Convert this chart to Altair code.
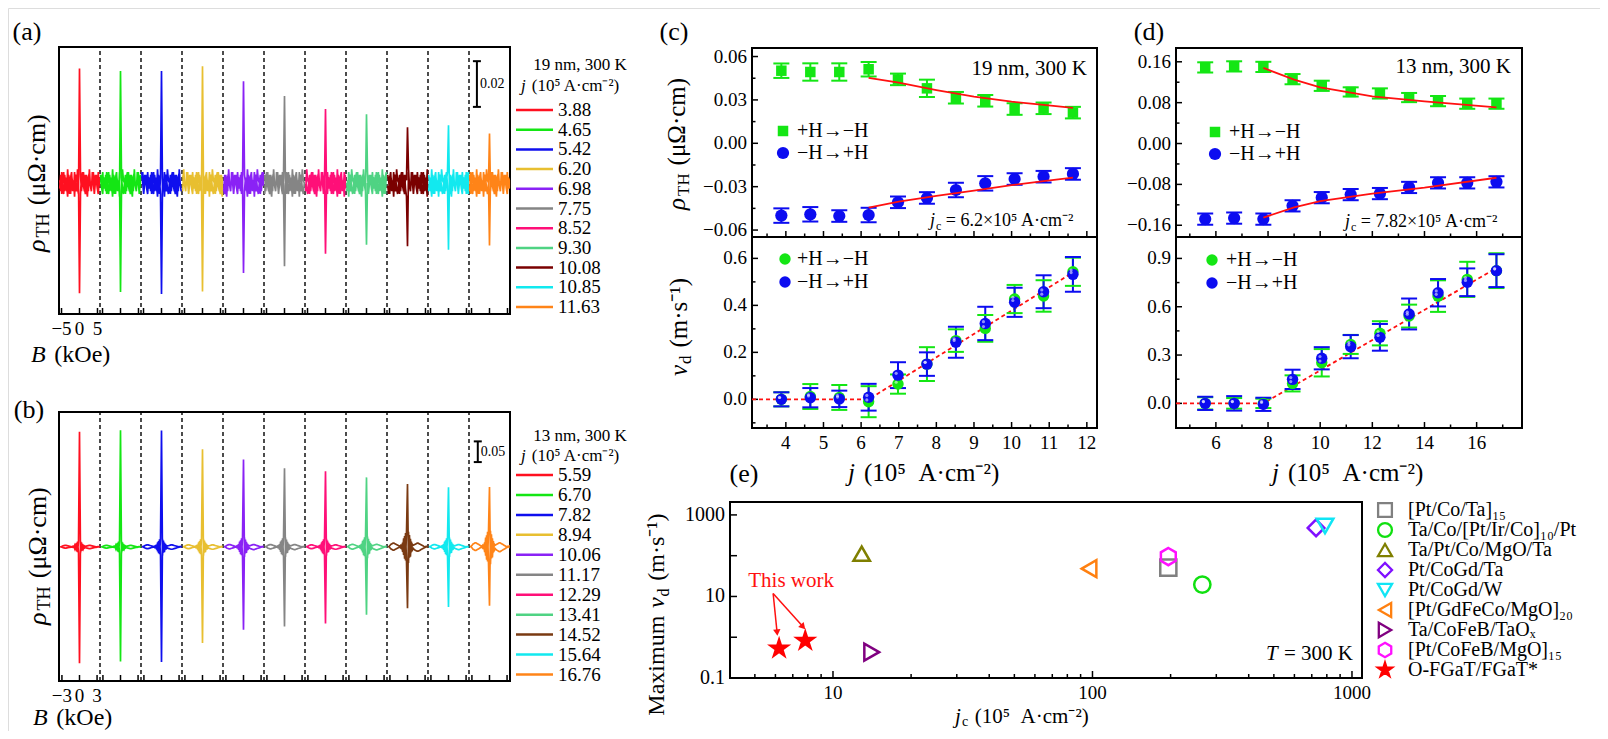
import altair as alt
import numpy as np
import pandas as pd

FONT = "Liberation Serif"
M = 8                      # page margin (view coords = page coords - M)
VW, VH = 1592, 723
SP = "\u2002"              # en space (not collapsed in SVG)

# ============================ DATA ============================
# (a) 19 nm, 300 K : rho_TH(B) traces, one per current density
A_J = ["3.88", "4.65", "5.42", "6.20", "6.98", "7.75", "8.52", "9.30", "10.08", "10.85", "11.63"]
A_COLORS = ["#ff1020", "#14e614", "#0f0fee", "#e8bf30", "#8a22f5", "#858585",
            "#ff0f78", "#4fd383", "#7a0000", "#12e9ef", "#ff8418"]
A_PEAK_UP = [0.0501, 0.0490, 0.0490, 0.0511, 0.0445, 0.0381, 0.0324, 0.0301, 0.0244, 0.0253, 0.0216]
A_PEAK_DN = [-0.0482, -0.0477, -0.0485, -0.0474, -0.0394, -0.0364, -0.0309, -0.0270, -0.0277, -0.0292, -0.0273]
A_NOISE_FWD = [1, -3, 4, -2, -4, 3, 0, -3, 5, -1, -4, 2, 4, -3, 1, -5, 3, 2, -2, -4, 0,
               3, -3, 1, 4, -2, -4, 3, 1, -3, 5, -1, -3, 2, 4, -4, 0, 3, -2, -4, 2]
A_NOISE_BWD = [-2, 3, -4, 1, 4, -3, 2, -1, -5, 3, 1, -4, 3, 0, -3, 4, -2, -3, 5, 1, 0,
               -4, 2, 4, -1, -3, 3, -2, -5, 2, 4, -1, -3, 4, 0, -4, 3, 1, -2, 4, -1]
A_NOISE_UNIT = 0.0012
A_AMP = [1, 1, 1, 1, 1, 1, 1, 1, 1, 1, 1]
A_BMAX = 5.5
A_SEG = 11.4
A_TICKS = [-5, 0, 5]

# (b) 13 nm, 300 K
B_J = ["5.59", "6.70", "7.82", "8.94", "10.06", "11.17", "12.29", "13.41", "14.52", "15.64", "16.76"]
B_COLORS = ["#ff1020", "#14e614", "#0f0fee", "#e8bf30", "#8a22f5", "#858585",
            "#ff0f78", "#4fd383", "#7a3a12", "#12e9ef", "#ff8418"]
B_PEAK_UP = [0.278, 0.282, 0.281, 0.236, 0.211, 0.190, 0.183, 0.168, 0.152, 0.144, 0.145]
B_PEAK_DN = [-0.281, -0.277, -0.278, -0.232, -0.200, -0.192, -0.185, -0.164, -0.148, -0.145, -0.142]
B_SHAPE_FWD = [0.0, 0.1, 0.3, 0.5, 0.6, 0.7, 0.7, 0.6, 0.5, 0.4, 0.3, 0.2, 0.1, 0.3, -0.2, 0.8, -1.5, 2.0, -2.5, 3.0, 0.0,
               -3.0, 2.2, -1.8, 1.0, -0.6, -0.3, -0.5, -0.6, -0.7, -0.8, -0.8, -0.7, -0.6, -0.5, -0.4, -0.3, -0.2, -0.1, 0.0, 0.1]
B_SHAPE_BWD = [0.1, 0.0, -0.2, -0.4, -0.5, -0.6, -0.6, -0.5, -0.4, -0.3, -0.2, -0.1, 0.0, -0.2, 0.3, -0.9, 1.6, -2.2, 2.6, -3.0, 0.0,
               2.8, -2.0, 1.5, -0.8, 0.5, 0.3, 0.4, 0.5, 0.6, 0.7, 0.7, 0.6, 0.5, 0.4, 0.3, 0.2, 0.1, 0.0, 0.1, 0.0]
B_SHAPE_UNIT = 0.01
B_AMP = [0.5, 0.5, 0.7, 0.7, 0.8, 0.8, 0.7, 0.9, 1.3, 0.8, 1.4]
B_BMAX = 3.3
B_SEG = 7.0
B_TICKS = [-3, 0, 3]

# (c) 19 nm
SER = ["+H→−H", "−H→+H"]
SER_COL = ["#14e614", "#0c0cf0"]
C_J = [3.88, 4.65, 5.42, 6.20, 6.98, 7.75, 8.52, 9.30, 10.08, 10.85, 11.63]
C_RHO_UP = [0.0502, 0.0493, 0.0493, 0.0512, 0.0442, 0.0380, 0.0315, 0.0294, 0.0237, 0.0242, 0.0212]
C_RHO_UP_ERR = [0.005, 0.006, 0.006, 0.005, 0.004, 0.006, 0.004, 0.004, 0.004, 0.004, 0.004]
C_RHO_DN = [-0.0500, -0.0491, -0.0503, -0.0496, -0.0408, -0.0378, -0.0323, -0.0277, -0.0247, -0.0231, -0.0212]
C_RHO_DN_ERR = [0.005, 0.005, 0.004, 0.005, 0.004, 0.004, 0.005, 0.005, 0.004, 0.004, 0.004]
C_FIT_J = [6.2, 7.0, 8.0, 9.0, 10.0, 10.85, 11.63]
C_FIT_UP = [0.0453, 0.0419, 0.0368, 0.0322, 0.0288, 0.0265, 0.0245]
C_FIT_DN = [-0.0445, -0.0404, -0.0364, -0.0328, -0.0290, -0.0262, -0.0238]
C_VD_UP = [0.0, 0.012, 0.008, -0.010, 0.065, 0.150, 0.250, 0.302, 0.427, 0.440, 0.543]
C_VD_UP_ERR = [0.030, 0.053, 0.053, 0.066, 0.041, 0.072, 0.048, 0.057, 0.060, 0.067, 0.060]
C_VD_DN = [0.0, 0.007, 0.002, 0.009, 0.103, 0.150, 0.243, 0.323, 0.413, 0.458, 0.532]
C_VD_DN_ERR = [0.030, 0.041, 0.035, 0.057, 0.055, 0.050, 0.066, 0.071, 0.062, 0.070, 0.074]
C_DASH_J = [3.10, 6.20, 11.63]
C_DASH_V = [0.0, 0.0, 0.540]

# (d) 13 nm
D_J = [5.59, 6.70, 7.82, 8.94, 10.06, 11.17, 12.29, 13.41, 14.52, 15.64, 16.76]
D_RHO_UP = [0.149, 0.151, 0.150, 0.126, 0.113, 0.101, 0.098, 0.090, 0.083, 0.078, 0.078]
D_RHO_UP_ERR = [0.010, 0.010, 0.010, 0.010, 0.010, 0.009, 0.010, 0.009, 0.010, 0.010, 0.010]
D_RHO_DN = [-0.148, -0.146, -0.148, -0.122, -0.106, -0.100, -0.098, -0.086, -0.077, -0.077, -0.075]
D_RHO_DN_ERR = [0.011, 0.011, 0.011, 0.011, 0.011, 0.011, 0.011, 0.011, 0.011, 0.011, 0.011]
D_FIT_J = [7.82, 9.0, 10.0, 12.0, 14.0, 16.76]
D_FIT_UP = [0.148, 0.125, 0.110, 0.0923, 0.0825, 0.0708]
D_FIT_DN = [-0.145, -0.125, -0.1126, -0.098, -0.0864, -0.067]
D_VD_UP = [0.0, 0.0, 0.0, 0.124, 0.252, 0.366, 0.435, 0.542, 0.666, 0.770, 0.824]
D_VD_UP_ERR = [0.038, 0.033, 0.029, 0.050, 0.085, 0.059, 0.075, 0.071, 0.098, 0.109, 0.108]
D_VD_DN = [0.0, 0.0, -0.006, 0.149, 0.280, 0.352, 0.410, 0.555, 0.687, 0.752, 0.824]
D_VD_DN_ERR = [0.041, 0.045, 0.041, 0.060, 0.069, 0.072, 0.083, 0.096, 0.085, 0.086, 0.102]
D_DASH_J = [4.47, 7.82, 16.76]
D_DASH_V = [0.0, 0.0, 0.84]

# (e) comparison
E_NAMES = ["[Pt/Co/Ta]₁₅", "Ta/Co/[Pt/Ir/Co]₁₀/Pt", "Ta/Pt/Co/MgO/Ta", "Pt/CoGd/Ta", "Pt/CoGd/W",
           "[Pt/GdFeCo/MgO]₂₀", "Ta/CoFeB/TaOₓ", "[Pt/CoFeB/MgO]₁₅", "O-FGaT/FGaT*"]
E_COLORS = ["#808080", "#10e010", "#7f7f00", "#7f10ff", "#10e5f5", "#ff8010", "#800080", "#ff10ff", "#ff0000"]
HEX = "M0,-1L0.866,-0.5L0.866,0.5L0,1L-0.866,0.5L-0.866,-0.5Z"
STAR = ("M0,-1L0.2245,-0.309L0.951,-0.309L0.363,0.118L0.588,0.809L0,0.382"
        "L-0.588,0.809L-0.363,0.118L-0.951,-0.309L-0.2245,-0.309Z")
E_SHAPES = ["square", "circle", "triangle-up", "diamond", "triangle-down",
            "triangle-left", "triangle-right", HEX, STAR]
E_FILLS = ["transparent"] * 8 + ["#ff0000"]
E_SIZES = [260, 300, 430, 330, 430, 430, 430, 340, 480]
E_LEG_SIZES = [190, 210, 270, 230, 270, 270, 270, 230, 320]
E_PT_NAME = E_NAMES + [E_NAMES[8]]
E_JC = [196, 265, 12.9, 727, 787, 97, 14.1, 196, 6.2, 7.82]
E_VMAX = [51, 19.6, 112, 480, 535, 48, 0.43, 95, 0.53, 0.82]
E_ARROW_X0 = [5.88, 5.88]
E_ARROW_Y0 = [11.8, 11.8]
E_ARROW_X1 = [6.09, 7.67]
E_ARROW_Y1 = [1.30, 1.80]
E_ARROW_ANG = [354, 318]
E_NOTE_X, E_NOTE_Y = 6.9, 24.5

# ============================ LAYOUT (page px) ============================
P_A = dict(x0=59, x1=510, y0=47, y1=314)
P_B = dict(x0=59, x1=510, y0=412, y1=681)
P_CT = dict(x0=752, x1=1097, y0=48, y1=237)
P_CB = dict(x0=752, x1=1097, y0=237, y1=428)
P_DT = dict(x0=1176, x1=1522, y0=48, y1=237)
P_DB = dict(x0=1176, x1=1522, y0=237, y1=428)
P_E = dict(x0=730, x1=1362, y0=502, y1=678)
TICK_FS = 19

ONE = pd.DataFrame({"a": [0]})


def fmt(v, nd):
    return f"{v:.{nd}f}".replace("-", "−")


def scales(p, xdom, ydom, xtype="linear", ytype="linear"):
    xs = alt.Scale(type=xtype, domain=list(xdom), range=[p["x0"] - M, p["x1"] - M], nice=False, zero=False)
    ys = alt.Scale(type=ytype, domain=list(ydom), range=[p["y1"] - M, p["y0"] - M], nice=False, zero=False)
    return xs, ys


def frame(xs, ys, xdom, ydom):
    df = pd.DataFrame({"x0": [xdom[0]], "x1": [xdom[1]], "y0": [ydom[0]], "y1": [ydom[1]]})
    return alt.Chart(df).mark_rect(fillOpacity=0, stroke="black", strokeWidth=2).encode(
        x=alt.X("x0:Q", scale=xs, axis=None), x2="x1:Q",
        y=alt.Y("y0:Q", scale=ys, axis=None), y2="y1:Q")


def xticks(vals, yv, xs, ys, size):
    df = pd.DataFrame({"t": vals, "e": [yv] * len(vals)})
    return alt.Chart(df).mark_tick(orient="vertical", size=size, thickness=1.5, color="black",
                                   opacity=1, yOffset=-size / 2).encode(
        x=alt.X("t:Q", scale=xs, axis=None), y=alt.Y("e:Q", scale=ys, axis=None))


def yticks(vals, xv, xs, ys, size):
    df = pd.DataFrame({"t": vals, "e": [xv] * len(vals)})
    return alt.Chart(df).mark_tick(orient="horizontal", size=size, thickness=1.5, color="black",
                                   opacity=1, xOffset=size / 2).encode(
        y=alt.Y("t:Q", scale=ys, axis=None), x=alt.X("e:Q", scale=xs, axis=None))


def xlabels(vals, texts, yv, xs, ys, dy, size):
    df = pd.DataFrame({"v": vals, "e": [yv] * len(vals), "t": texts})
    return alt.Chart(df).mark_text(font=FONT, fontSize=size, align="center", baseline="middle",
                                   dy=dy, color="black").encode(
        x=alt.X("v:Q", scale=xs, axis=None), y=alt.Y("e:Q", scale=ys, axis=None), text="t:N")


def ylabels(vals, texts, xv, xs, ys, dx, size):
    df = pd.DataFrame({"v": vals, "e": [xv] * len(vals), "t": texts})
    return alt.Chart(df).mark_text(font=FONT, fontSize=size, align="right", baseline="middle",
                                   dx=-dx, color="black").encode(
        y=alt.Y("v:Q", scale=ys, axis=None), x=alt.X("e:Q", scale=xs, axis=None), text="t:N")


def text_at(text, px, py, size, align="center", color="black", angle=0, italic=False):
    kw = dict(text=text, font=FONT, fontSize=size, align=align, baseline="middle", color=color)
    if angle:
        kw["angle"] = angle
    if italic:
        kw["fontStyle"] = "italic"
    return alt.Chart(ONE).mark_text(**kw).encode(x=alt.value(px - M), y=alt.value(py - M))


def htitle(x, y, letter, sub, rest, size, wl, ws=0.0, subsize=None, gap=0.32, color="black", subdrop=0.26):
    """italic symbol + optional subscript + rest, laid out left to right from x."""
    out = [text_at(letter, x, y, size, align="left", italic=True, color=color)]
    xs_ = x + wl * size + 1
    if sub:
        subsize = subsize or round(size * 0.68)
        out.append(text_at(sub, xs_, y + subdrop * size, subsize, align="left", color=color))
        xs_ += ws * subsize
    out.append(text_at(rest, xs_ + gap * size, y, size, align="left", color=color))
    return out


def vtitle(x, y, letter, sub, rest, size, wl, ws=0.0, subsize=None, gap=0.32, prefix=None):
    """same, rotated 270 deg, reading upwards from y."""
    out = [text_at(letter, x, y, size, align="left", angle=270, italic=True)]
    ys_ = y - wl * size - 1
    if sub:
        subsize = subsize or round(size * 0.68)
        out.append(text_at(sub, x + 0.28 * size, ys_, subsize, align="left", angle=270))
        ys_ -= ws * subsize
    out.append(text_at(rest, x, ys_ - gap * size, size, align="left", angle=270))
    if prefix:
        out.append(text_at(prefix, x, y + gap * size, size, align="right", angle=270))
    return out


def line_legend(labels, colors, x0, x1, ytop, dy, lx, size):
    df = pd.DataFrame({"n": labels, "y": [ytop - M + i * dy for i in range(len(labels))],
                       "x0": x0 - M, "x1": x1 - M, "lx": lx - M})
    col = alt.Color("n:N", scale=alt.Scale(domain=labels, range=colors), legend=None)
    ln = alt.Chart(df).mark_rule(strokeWidth=2.5).encode(
        x=alt.X("x0:Q", scale=None), x2="x1:Q", y=alt.Y("y:Q", scale=None), color=col)
    tx = alt.Chart(df).mark_text(font=FONT, fontSize=size, align="left", baseline="middle", color="black").encode(
        x=alt.X("lx:Q", scale=None), y=alt.Y("y:Q", scale=None), text="n:N")
    return [ln, tx]


def point_legend(names, shapes, strokes, fills, sizes, sx, ytop, dy, lx, size, sw):
    df = pd.DataFrame({"n": names, "y": [ytop - M + i * dy for i in range(len(names))],
                       "x": sx - M, "lx": lx - M})
    pts = alt.Chart(df).mark_point(opacity=1, strokeWidth=sw).encode(
        x=alt.X("x:Q", scale=None), y=alt.Y("y:Q", scale=None),
        shape=alt.Shape("n:N", scale=alt.Scale(domain=names, range=shapes), legend=None),
        stroke=alt.Stroke("n:N", scale=alt.Scale(domain=names, range=strokes), legend=None),
        fill=alt.Fill("n:N", scale=alt.Scale(domain=names, range=fills), legend=None),
        size=alt.Size("n:N", scale=alt.Scale(domain=names, range=sizes), legend=None))
    tx = alt.Chart(df).mark_text(font=FONT, fontSize=size, align="left", baseline="middle", color="black").encode(
        x=alt.X("lx:Q", scale=None), y=alt.Y("y:Q", scale=None), text="n:N")
    return [pts, tx]


# ============================ (a) & (b) ============================
def trace_df(labels, ups, dns, fwd, bwd, unit, amps, bmax, seg, roll):
    grid = np.linspace(-bmax, bmax, len(fwd))
    c = len(fwd) // 2
    rows = []
    for i, lab in enumerate(labels):
        f = np.roll(np.asarray(fwd, float), roll * i) * unit * amps[i]
        b = np.roll(np.asarray(bwd, float), roll * i) * unit * amps[i]
        f[c] = ups[i]
        b[c] = dns[i]
        k = 0
        for B, v in zip(grid, f):
            rows.append({"x": i * seg + B, "y": v, "tr": lab, "k": k})
            k += 1
        for B, v in zip(grid[::-1], b[::-1]):
            rows.append({"x": i * seg + B, "y": v, "tr": lab, "k": k})
            k += 1
    return pd.DataFrame(rows)


def trace_panel(p, labels, colors, df, seg, ticks, ydom, bar_x, bar_y0, bar_len, bar_text):
    n = len(labels)
    xdom = [-seg / 2, (n - 0.5) * seg]
    xs, ys = scales(p, xdom, ydom)
    fr = frame(xs, ys, xdom, ydom)
    div = pd.DataFrame({"d": [(i + 0.5) * seg for i in range(n - 1)], "lo": ydom[0], "hi": ydom[1]})
    dividers = alt.Chart(div).mark_rule(color="black", strokeWidth=1.4, strokeDash=[4, 3]).encode(
        x=alt.X("d:Q", scale=xs, axis=None), y=alt.Y("lo:Q", scale=ys, axis=None), y2="hi:Q")
    tk = xticks([i * seg + t for i in range(n) for t in ticks], ydom[0], xs, ys, 6)
    lab = xlabels(ticks, [fmt(t, 0) for t in ticks], ydom[0], xs, ys, 15, TICK_FS)
    lines = alt.Chart(df).mark_line(strokeWidth=1.7).encode(
        x=alt.X("x:Q", scale=xs, axis=None), y=alt.Y("y:Q", scale=ys, axis=None),
        color=alt.Color("tr:N", scale=alt.Scale(domain=labels, range=colors), legend=None),
        order=alt.Order("k:Q"))
    bdf = pd.DataFrame({"x": [bar_x], "y0": [bar_y0], "y1": [bar_y0 + bar_len], "t": [bar_text],
                        "ym": [bar_y0 + bar_len / 2]})
    bar = alt.Chart(bdf).mark_rule(color="black", strokeWidth=2).encode(
        x=alt.X("x:Q", scale=xs, axis=None), y=alt.Y("y0:Q", scale=ys, axis=None), y2="y1:Q")
    cap0 = alt.Chart(bdf).mark_tick(orient="horizontal", size=8, thickness=2, color="black", opacity=1).encode(
        x=alt.X("x:Q", scale=xs, axis=None), y=alt.Y("y0:Q", scale=ys, axis=None))
    cap1 = alt.Chart(bdf).mark_tick(orient="horizontal", size=8, thickness=2, color="black", opacity=1).encode(
        x=alt.X("x:Q", scale=xs, axis=None), y=alt.Y("y1:Q", scale=ys, axis=None))
    btxt = alt.Chart(bdf).mark_text(font=FONT, fontSize=14, align="left", dx=3, baseline="middle",
                                    color="black").encode(
        x=alt.X("x:Q", scale=xs, axis=None), y=alt.Y("ym:Q", scale=ys, axis=None), text="t:N")
    return alt.layer(fr, dividers, lines, tk, lab, bar, cap0, cap1, btxt)


A_DF = trace_df(A_J, A_PEAK_UP, A_PEAK_DN, A_NOISE_FWD, A_NOISE_BWD, A_NOISE_UNIT, A_AMP, A_BMAX, A_SEG, 4)
B_DF = trace_df(B_J, B_PEAK_UP, B_PEAK_DN, B_SHAPE_FWD, B_SHAPE_BWD, B_SHAPE_UNIT, B_AMP, B_BMAX, B_SEG, 0)

panel_a = trace_panel(P_A, A_J, A_COLORS, A_DF, A_SEG, A_TICKS, [-0.0573, 0.0595], 110.5, 0.0333, 0.02, "0.02")
panel_b = trace_panel(P_B, B_J, B_COLORS, B_DF, B_SEG, B_TICKS, [-0.324, 0.326], 68.0, 0.205, 0.05, "0.05")


# ============================ (c) & (d) ============================
def series_df(j, up, uperr, dn, dnerr):
    rows = []
    for s, vals, errs in ((SER[0], up, uperr), (SER[1], dn, dnerr)):
        for jj, v, e in zip(j, vals, errs):
            rows.append({"s": s, "j": jj, "v": v, "lo": v - e, "hi": v + e})
    return pd.DataFrame(rows)


def scatter_panel(p, xdom, ydom, df, shapes, sizes, xt, xtm, yt, ytm, ynd, xlab=True,
                  ylab=True, fit=None, dash=None, highlight=False):
    xs, ys = scales(p, xdom, ydom)
    col = alt.Color("s:N", scale=alt.Scale(domain=SER, range=SER_COL), legend=None)
    X = alt.X("j:Q", scale=xs, axis=None)
    base = alt.Chart(df)
    bars = base.mark_rule(strokeWidth=2).encode(x=X, y=alt.Y("lo:Q", scale=ys, axis=None), y2="hi:Q", color=col)
    c0 = base.mark_tick(orient="horizontal", size=16, thickness=2, opacity=1).encode(
        x=X, y=alt.Y("lo:Q", scale=ys, axis=None), color=col)
    c1 = base.mark_tick(orient="horizontal", size=16, thickness=2, opacity=1).encode(
        x=X, y=alt.Y("hi:Q", scale=ys, axis=None), color=col)
    pts = base.mark_point(filled=True, opacity=1).encode(
        x=X, y=alt.Y("v:Q", scale=ys, axis=None), color=col,
        shape=alt.Shape("s:N", scale=alt.Scale(domain=SER, range=shapes), legend=None),
        size=alt.Size("s:N", scale=alt.Scale(domain=SER, range=sizes), legend=None))
    layers = [frame(xs, ys, xdom, ydom), xticks(xt, ydom[0], xs, ys, 6), xticks(xtm, ydom[0], xs, ys, 3.5),
              yticks(yt, xdom[0], xs, ys, 6), yticks(ytm, xdom[0], xs, ys, 3.5)]
    if xlab:
        layers.append(xlabels(xt, [fmt(t, 0) for t in xt], ydom[0], xs, ys, 15, TICK_FS))
    if ylab:
        layers.append(ylabels(yt, [fmt(t, ynd) for t in yt], xdom[0], xs, ys, 5, TICK_FS))
    if dash is not None:
        ddf = pd.DataFrame({"j": dash[0], "v": dash[1]})
        layers.append(alt.Chart(ddf).mark_line(color="#ff1010", strokeWidth=1.8, strokeDash=[4, 3]).encode(
            x=alt.X("j:Q", scale=xs, axis=None), y=alt.Y("v:Q", scale=ys, axis=None)))
    layers += [bars, c0, c1, pts]
    if highlight:
        layers.append(base.mark_circle(color="white", opacity=0.55, size=10, xOffset=-1.8, yOffset=-1.8).encode(
            x=X, y=alt.Y("v:Q", scale=ys, axis=None)))
    if fit is not None:
        for fj, fv in fit:
            fdf = pd.DataFrame({"j": fj, "v": fv})
            layers.append(alt.Chart(fdf).mark_line(color="#ff1010", strokeWidth=1.8).encode(
                x=alt.X("j:Q", scale=xs, axis=None), y=alt.Y("v:Q", scale=ys, axis=None)))
    return alt.layer(*layers)


C_XDOM = [3.10, 12.27]
D_XDOM = [4.47, 17.74]
C_TOP_YDOM = [-0.0648, 0.0659]
C_BOT_YDOM = [-0.122, 0.691]
D_TOP_YDOM = [-0.183, 0.187]
D_BOT_YDOM = [-0.153, 1.033]

C_XT = [4, 5, 6, 7, 8, 9, 10, 11, 12]
C_XTM = [3.5, 4.5, 5.5, 6.5, 7.5, 8.5, 9.5, 10.5, 11.5]
D_XT = [6, 8, 10, 12, 14, 16]
D_XTM = [5, 7, 9, 11, 13, 15, 17]
C_TOP_YT = [-0.06, -0.03, 0.0, 0.03, 0.06]
C_TOP_YTM = [-0.045, -0.015, 0.015, 0.045]
C_BOT_YT = [0.0, 0.2, 0.4, 0.6]
C_BOT_YTM = [-0.1, 0.1, 0.3, 0.5]
D_TOP_YT = [-0.16, -0.08, 0.0, 0.08, 0.16]
D_TOP_YTM = [-0.12, -0.04, 0.04, 0.12]
D_BOT_YT = [0.0, 0.3, 0.6, 0.9]
D_BOT_YTM = [0.15, 0.45, 0.75]

panel_ct = scatter_panel(P_CT, C_XDOM, C_TOP_YDOM,
                         series_df(C_J, C_RHO_UP, C_RHO_UP_ERR, C_RHO_DN, C_RHO_DN_ERR),
                         ["square", "circle"], [110, 150], C_XT, C_XTM, C_TOP_YT, C_TOP_YTM, 2,
                         xlab=False, fit=[(C_FIT_J, C_FIT_UP), (C_FIT_J, C_FIT_DN)])
panel_cb = scatter_panel(P_CB, C_XDOM, C_BOT_YDOM,
                         series_df(C_J, C_VD_UP, C_VD_UP_ERR, C_VD_DN, C_VD_DN_ERR),
                         ["circle", "circle"], [130, 130], C_XT, C_XTM, C_BOT_YT, C_BOT_YTM, 1,
                         dash=(C_DASH_J, C_DASH_V), highlight=True)
panel_dt = scatter_panel(P_DT, D_XDOM, D_TOP_YDOM,
                         series_df(D_J, D_RHO_UP, D_RHO_UP_ERR, D_RHO_DN, D_RHO_DN_ERR),
                         ["square", "circle"], [110, 150], D_XT, D_XTM, D_TOP_YT, D_TOP_YTM, 2,
                         xlab=False, fit=[(D_FIT_J, D_FIT_UP), (D_FIT_J, D_FIT_DN)])
panel_db = scatter_panel(P_DB, D_XDOM, D_BOT_YDOM,
                         series_df(D_J, D_VD_UP, D_VD_UP_ERR, D_VD_DN, D_VD_DN_ERR),
                         ["circle", "circle"], [130, 130], D_XT, D_XTM, D_BOT_YT, D_BOT_YTM, 1,
                         dash=(D_DASH_J, D_DASH_V), highlight=True)

# ============================ (e) ============================
E_XDOM = [4.01, 1093]
E_YDOM = [0.1, 2074]
E_XT = [10, 100, 1000]
E_XTM = [5, 6, 7, 8, 9, 20, 30, 40, 50, 60, 70, 80, 90, 200, 300, 400, 500, 600, 700, 800, 900]
E_YT = [1, 10, 100, 1000]
E_YLAB = [0.1, 10, 1000]

exs, eys = scales(P_E, E_XDOM, E_YDOM, "log", "log")
E_DF = pd.DataFrame({"n": E_PT_NAME, "jc": E_JC, "v": E_VMAX})
e_pts = alt.Chart(E_DF).mark_point(strokeWidth=2.5, opacity=1).encode(
    x=alt.X("jc:Q", scale=exs, axis=None), y=alt.Y("v:Q", scale=eys, axis=None),
    shape=alt.Shape("n:N", scale=alt.Scale(domain=E_NAMES, range=E_SHAPES), legend=None),
    stroke=alt.Stroke("n:N", scale=alt.Scale(domain=E_NAMES, range=E_COLORS), legend=None),
    fill=alt.Fill("n:N", scale=alt.Scale(domain=E_NAMES, range=E_FILLS), legend=None),
    size=alt.Size("n:N", scale=alt.Scale(domain=E_NAMES, range=E_SIZES), legend=None))
ADF = pd.DataFrame({"x0": E_ARROW_X0, "y0": E_ARROW_Y0, "x1": E_ARROW_X1, "y1": E_ARROW_Y1, "a": E_ARROW_ANG})
e_arrow = alt.Chart(ADF).mark_rule(color="#ff1010", strokeWidth=1.5).encode(
    x=alt.X("x0:Q", scale=exs, axis=None), y=alt.Y("y0:Q", scale=eys, axis=None), x2="x1:Q", y2="y1:Q")
e_head = alt.Chart(ADF).mark_point(shape="triangle-down", filled=True, color="#ff1010", size=55, opacity=1).encode(
    x=alt.X("x1:Q", scale=exs, axis=None), y=alt.Y("y1:Q", scale=eys, axis=None),
    angle=alt.Angle("a:Q", scale=None))
NDF = pd.DataFrame({"x": [E_NOTE_X], "y": [E_NOTE_Y], "t": ["This work"]})
e_note = alt.Chart(NDF).mark_text(font=FONT, fontSize=21, color="#ff1010").encode(
    x=alt.X("x:Q", scale=exs, axis=None), y=alt.Y("y:Q", scale=eys, axis=None), text="t:N")
panel_e = alt.layer(frame(exs, eys, E_XDOM, E_YDOM),
                    xticks(E_XT, E_YDOM[0], exs, eys, 7), xticks(E_XTM, E_YDOM[0], exs, eys, 4),
                    yticks(E_YT, E_XDOM[0], exs, eys, 7),
                    xlabels(E_XT, ["10", "100", "1000"], E_YDOM[0], exs, eys, 15, 19),
                    ylabels(E_YLAB, ["0.1", "10", "1000"], E_XDOM[0], exs, eys, 5, 20),
                    e_pts, e_arrow, e_head, e_note)

# ============================ legends ============================
legends = []
legends += line_legend(A_J, A_COLORS, 516, 553, 110, 19.7, 558, 19)
legends += line_legend(B_J, B_COLORS, 516, 553, 475, 19.95, 558, 19)
legends += point_legend(SER, ["square", "circle"], SER_COL, SER_COL, [110, 150], 783, 131, 22, 797, 20, 0)
legends += point_legend(SER, ["circle", "circle"], SER_COL, SER_COL, [130, 130], 785, 259, 23, 797, 20, 0)
legends += point_legend(SER, ["square", "circle"], SER_COL, SER_COL, [110, 150], 1215, 132, 22, 1229, 20, 0)
legends += point_legend(SER, ["circle", "circle"], SER_COL, SER_COL, [130, 130], 1212, 260, 23, 1226, 20, 0)
legends += point_legend(E_NAMES, E_SHAPES, E_COLORS, E_FILLS, E_LEG_SIZES, 1385, 510, 20, 1408, 20, 2.3)

# ============================ texts ============================
UNIT_J = "(10⁵" + SP + "A·cm⁻²)"
texts = [
    text_at("(a)", 27, 32, 26), text_at("(b)", 29, 410, 26), text_at("(c)", 674, 32, 26),
    text_at("(d)", 1149, 32, 26), text_at("(e)", 744, 474, 26),
    text_at("19 nm, 300 K", 580, 65, 17), text_at("13 nm, 300 K", 580, 436, 17),
    text_at("19 nm, 300 K", 1087, 69, 21, align="right"),
    text_at("13 nm, 300 K", 1511, 67, 21, align="right"),
]
# legend headers with italic j
texts += htitle(521, 86, "j", "", "(10⁵ A·cm⁻²)", 17, 0.28, gap=0.3)
texts += htitle(521, 456, "j", "", "(10⁵ A·cm⁻²)", 17, 0.28, gap=0.3)
# axis titles
texts += vtitle(37, 252, "ρ", "TH", "(μΩ·cm)", 26, 0.52, 1.33)
texts += vtitle(38, 625, "ρ", "TH", "(μΩ·cm)", 26, 0.52, 1.33)
texts += htitle(31, 355, "B", "", "(kOe)", 24, 0.61)
texts += htitle(33, 718, "B", "", "(kOe)", 24, 0.61)
texts += vtitle(677, 210, "ρ", "TH", "(μΩ·cm)", 25, 0.52, 1.33)
texts += vtitle(679, 376, "v", "d", "(m·s⁻¹)", 25, 0.44, 0.5)
texts += htitle(848, 473, "j", "", UNIT_J, 25, 0.28)
texts += htitle(1272, 473, "j", "", UNIT_J, 25, 0.28)
texts += vtitle(657, 608, "v", "d", "(m·s⁻¹)", 24, 0.44, 0.5, prefix="Maximum")
texts += htitle(955, 717, "j", "c", UNIT_J, 21, 0.28, 0.44, subdrop=0.22)
# in-panel annotations
texts += htitle(930, 221, "j", "c", "= 6.2×10⁵ A·cm⁻²", 18, 0.28, 0.44, gap=0.25)
texts += htitle(1345, 222, "j", "c", "= 7.82×10⁵ A·cm⁻²", 18, 0.28, 0.44, gap=0.25)
texts += htitle(1266, 654, "T", "", "= 300 K", 21, 0.56, gap=0.25)

chart = alt.layer(panel_a, panel_b, panel_ct, panel_cb, panel_dt, panel_db, panel_e, *legends, *texts).resolve_scale(
    x="independent", y="independent", color="independent", shape="independent", size="independent",
    fill="independent", stroke="independent"
).properties(
    width=VW, height=VH, padding=0, autosize=alt.AutoSizeParams(type="none")
).configure_view(strokeWidth=0).configure(font=FONT)

chart.save("out.html", embed_options={"renderer": "svg", "actions": False})
